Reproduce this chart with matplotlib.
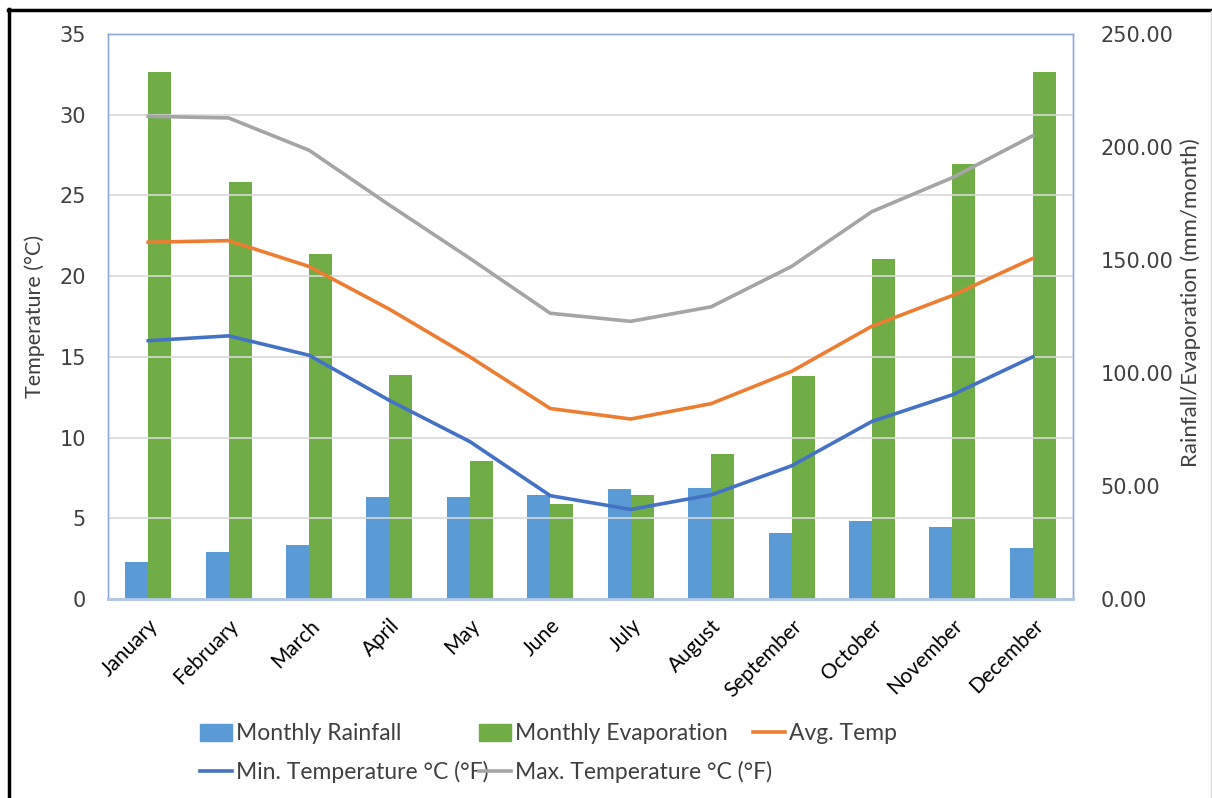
import numpy as np
import matplotlib
matplotlib.use("Agg")
import matplotlib.pyplot as plt
from matplotlib.lines import Line2D
from matplotlib.patches import Patch
from matplotlib.ticker import FixedLocator

months = ["January", "February", "March", "April", "May", "June", "July",
          "August", "September", "October", "November", "December"]
rainfall = [16.4, 20.8, 23.9, 45.1, 45.1, 46.0, 48.5, 49.2, 29.4, 34.4, 31.9, 22.6]
evaporation = [233.4, 184.5, 152.7, 99.1, 61.1, 42.0, 45.9, 64.0, 98.8, 150.4, 192.5, 233.4]
avg_temp = [22.1, 22.2, 20.6, 17.95, 15.0, 11.8, 11.15, 12.1, 14.1, 16.9, 18.8, 21.1]
min_temp = [16.0, 16.3, 15.1, 12.3, 9.75, 6.4, 5.55, 6.45, 8.25, 11.0, 12.65, 15.0]
max_temp = [29.9, 29.8, 27.8, 24.4, 21.1, 17.7, 17.2, 18.1, 20.6, 24.0, 26.1, 28.7]
temp_ticks = [0, 5, 10, 15, 20, 25, 30, 35]
rain_ticks = [0, 50, 100, 150, 200, 250]

C_RAIN = "#5B9BD5"
C_EVAP = "#70AD47"
C_AVG = "#ED7D31"
C_MIN = "#4472C4"
C_MAX = "#A5A5A5"
TXT = "#404040"
FAM = ["Lato", "DejaVu Sans"]

W, H = 1212, 798
fig = plt.figure(figsize=(W / 100, H / 100), dpi=100)
rect = [108 / W, 1 - 599 / H, (1073 - 108) / W, (599 - 34) / H]

ax = fig.add_axes(rect)
ax.set_zorder(1)
ax2 = ax.twinx()
ax2.set_zorder(2)
ax2.patch.set_visible(False)
ax3 = fig.add_axes(rect, sharex=ax, sharey=ax)
ax3.set_zorder(3)
ax3.patch.set_visible(False)
ax3.axis("off")

x = np.arange(len(months))
w = 0.286
ax2.bar(x - w / 2, rainfall, width=w, color=C_RAIN, label="Monthly Rainfall")
ax2.bar(x + w / 2, evaporation, width=w, color=C_EVAP, label="Monthly Evaporation")

lw = 2.6
ax3.plot(x, avg_temp, color=C_AVG, lw=lw, solid_joinstyle="round")
ax3.plot(x, min_temp, color=C_MIN, lw=lw, solid_joinstyle="round")
ax3.plot(x, max_temp, color=C_MAX, lw=lw, solid_joinstyle="round")

ax.set_xlim(-0.5, len(months) - 0.5)
ax.set_ylim(0, 35)
ax2.set_ylim(0, 250)
ax.set_yticks(temp_ticks)
ax2.set_yticks(rain_ticks)
ax2.set_yticklabels([f"{v:.2f}" for v in rain_ticks])

# gridlines at the temperature ticks, drawn behind bars
ax2.yaxis.set_minor_locator(FixedLocator([t * 250 / 35 for t in temp_ticks[1:]]))
ax2.grid(True, which="minor", axis="y", color="#D9D9D9", lw=1.2)
ax2.tick_params(which="minor", length=0)

ax.set_xticks(x)
ax.set_xticklabels(months, rotation=45, ha="right", rotation_mode="anchor",
                   fontsize=15, family=FAM, color="black")
ax.tick_params(axis="x", length=0, pad=12)
ax.tick_params(axis="y", length=0, pad=16, labelsize=15, labelcolor=TXT)
ax2.tick_params(axis="y", length=0, pad=20, labelsize=15, labelcolor=TXT)
ax2.tick_params(axis="x", length=0)

for a in (ax, ax2):
    for s in ("left", "top", "right"):
        a.spines[s].set_color("#8FAADC")
        a.spines[s].set_linewidth(1.0)
    a.spines["bottom"].set_color("#B4C7E7")
    a.spines["bottom"].set_linewidth(2.0)

ax.set_ylabel("Temperature (°C)", fontsize=15.5, color=TXT, family=FAM)
ax.yaxis.set_label_coords(45 / W, 1 - 316 / H, transform=fig.transFigure)
ax2.set_ylabel("Rainfall/Evaporation (mm/month)", fontsize=16, color=TXT, family=FAM)
ax2.yaxis.set_label_coords(1180 / W, 1 - 303 / H, transform=fig.transFigure)

# legend entries placed like the original
entries = [
    (Patch(color=C_RAIN), "Monthly Rainfall", 200, 734),
    (Patch(color=C_EVAP), "Monthly Evaporation", 479, 734),
    (Line2D([], [], color=C_AVG, lw=lw), "Avg. Temp", 753, 734),
    (Line2D([], [], color=C_MIN, lw=lw), "Min. Temperature °C (°F)", 200, 772),
    (Line2D([], [], color=C_MAX, lw=lw), "Max. Temperature °C (°F)", 479, 772),
]
for h, lab, px, py in entries:
    leg = fig.legend(handles=[h], labels=[lab], loc="center left",
                     bbox_to_anchor=(px / W, 1 - py / H), frameon=False,
                     borderpad=0, borderaxespad=0, handlelength=1.4,
                     handleheight=0.75, handletextpad=0.17,
                     prop={"family": FAM, "size": 16.5})
    for t in leg.get_texts():
        t.set_color(TXT)

# outer frame
fig.add_artist(Line2D([8.5 / W, 8.5 / W], [0, 1 - 9 / H], color="black", lw=2.5,
                      transform=fig.transFigure))
fig.add_artist(Line2D([7.5 / W, 1], [1 - 10 / H, 1 - 10 / H], color="black", lw=2.5,
                      transform=fig.transFigure))
fig.add_artist(Line2D([1210.5 / W, 1210.5 / W], [0, 1 - 11 / H], color="#D9D9D9", lw=1,
                      transform=fig.transFigure))

fig.savefig("out.png", dpi=100)
